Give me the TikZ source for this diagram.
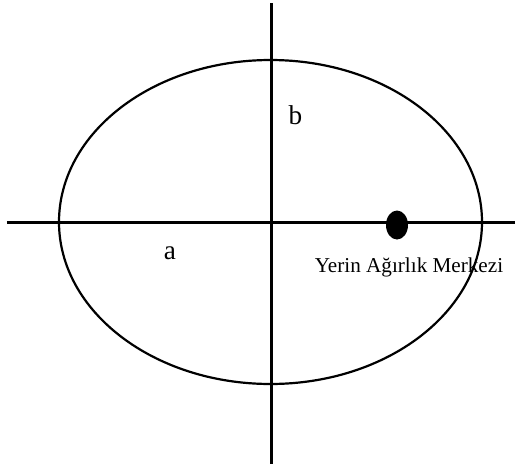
\documentclass[tikz,border=0pt]{standalone}
\usepackage{fontspec}
\setmainfont{Liberation Serif}

\begin{document}
\begin{tikzpicture}[x=0.02cm,y=-0.02cm,line width=1.25pt]
\tikzset{lbl/.style={inner sep=0pt,anchor=base,font=\fontsize{12.05}{14}\selectfont},
  axlbl/.style={lbl,font=\fontsize{15.5}{18}\selectfont}}
\useasboundingbox (0,0) rectangle (515,467);
% axes
\coordinate (xl) at (7,222.5);
\coordinate (xr) at (515,222.5);
\coordinate (yt) at (271.5,3);
\coordinate (yb) at (271.5,464);
\draw (xl) -- (xr);
\draw (yt) -- (yb);
% orbit
\draw (270.5,222) ellipse (211.5 and 162);
% centre of mass
\fill (397,225) ellipse (11 and 14.5);
\node[axlbl] (b) at (295.5,124) {b};
\node[axlbl] (a) at (170,259) {a};
\node[lbl] (cm) at (409,272) {Yerin Ağırlık Merkezi};
\end{tikzpicture}
\end{document}
